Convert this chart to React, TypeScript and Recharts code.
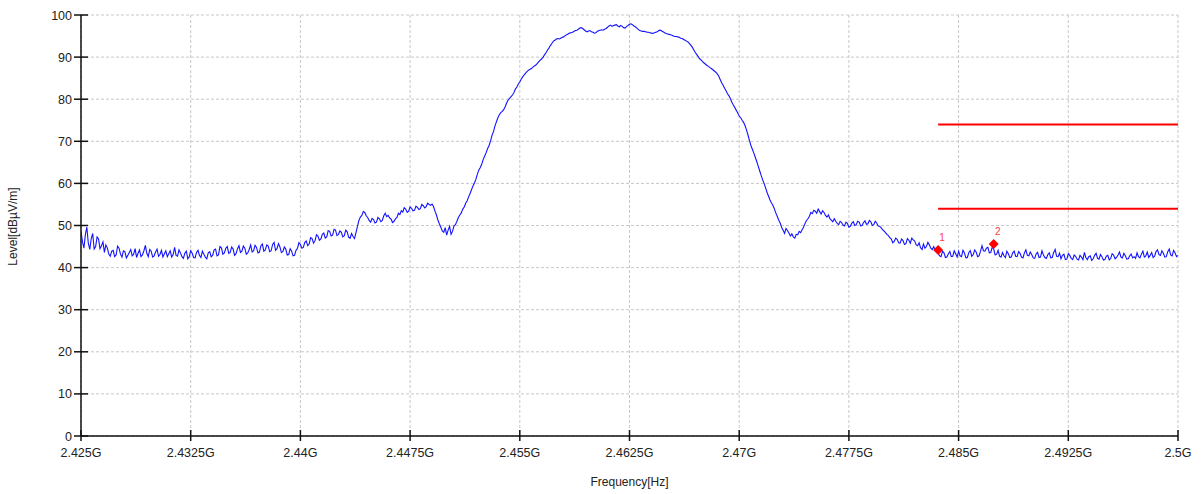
import React from 'react';
import { ComposedChart, Line, Scatter, XAxis, YAxis, CartesianGrid } from 'recharts';

// trace sampled every 0.1 MHz from 2425 MHz, one row per 2 MHz
const startMHz = 2425;
const stepMHz = 0.1;
const levels: number[] = [
  48.5, 46.2, 44.6, 47.9, 49.6, 45.8, 44.3, 46.9, 48.1, 44.4, 45.0, 47.3, 46.8, 44.5, 45.2, 46.1, 43.6, 45.4, 44.7, 43.2,
  42.7, 43.9, 44.1, 42.6, 43.0, 45.1, 44.6, 43.2, 42.5, 44.0, 43.8, 42.3, 42.9, 43.6, 44.3, 42.8, 43.2, 44.5, 42.4, 43.4,
  44.2, 42.6, 43.0, 44.0, 45.3, 43.4, 42.6, 44.3, 43.9, 42.5, 42.8, 43.7, 44.4, 42.7, 43.1, 44.1, 42.5, 43.3, 44.0, 42.6,
  43.3, 44.0, 42.5, 43.1, 44.8, 42.9, 42.7, 44.2, 43.5, 42.6, 42.2, 43.4, 43.9, 42.1, 42.6, 44.0, 43.4, 42.4, 42.3, 43.6,
  44.1, 42.9, 42.4, 43.9, 43.2, 42.5, 42.1, 43.5, 43.8, 42.6, 42.9, 44.2, 44.4, 42.8, 43.0, 45.0, 44.7, 43.2, 43.5, 44.6,
  45.0, 43.4, 43.6, 44.9, 44.4, 42.9, 43.3, 44.5, 45.2, 43.6, 43.9, 45.1, 44.6, 43.2, 43.5, 44.3, 45.4, 43.7, 44.0, 45.3,
  44.8, 43.5, 43.7, 45.2, 45.6, 43.9, 44.2, 45.4, 45.1, 43.8, 44.0, 45.5, 46.0, 44.1, 44.5, 45.7, 44.9, 43.6, 43.8, 44.9,
  44.4, 43.0, 43.1, 44.5, 43.9, 42.8, 42.9, 44.1, 44.6, 45.9, 45.5, 44.6, 44.8, 46.0, 46.3, 45.2, 45.6, 47.1, 46.9, 45.8,
  46.4, 47.8, 47.5, 46.5, 46.8, 47.9, 48.2, 47.0, 47.3, 48.8, 48.6, 47.5, 47.7, 49.1, 48.9, 47.6, 47.9, 48.7, 48.4, 47.3,
  47.6, 48.9, 48.5, 47.2, 47.0, 48.1, 47.4, 46.9, 48.3, 49.8, 51.2, 52.0, 52.4, 53.3, 53.1, 52.3, 51.9, 51.2, 50.8, 51.7,
  51.4, 50.6, 50.8, 51.9, 51.6, 50.9, 51.2, 52.3, 52.9, 52.1, 52.4, 51.8, 51.5, 50.7, 51.0, 51.6, 51.9, 52.9, 52.6, 53.5,
  53.2, 54.2, 53.9, 53.1, 53.4, 54.4, 54.1, 53.5, 53.6, 54.6, 54.3, 53.8, 54.0, 55.0, 54.7, 54.2, 54.5, 55.3, 55.0, 54.8,
  55.1, 54.5, 53.4, 52.5, 51.3, 50.4, 49.6, 48.7, 48.4, 49.5, 47.7, 48.9, 49.8, 47.9, 48.6, 49.9, 50.2, 51.0, 51.9, 52.5,
  53.0, 53.9, 54.4, 55.3, 55.9, 56.8, 57.6, 58.5, 59.4, 60.1, 61.0, 62.2, 63.2, 63.8, 64.6, 65.7, 66.5, 67.3, 68.3, 69.0,
  70.1, 71.4, 72.3, 73.6, 74.6, 75.6, 76.3, 76.8, 77.1, 77.5, 78.2, 79.1, 79.8, 80.2, 80.6, 81.0, 81.6, 82.4, 82.9, 83.6,
  84.1, 84.8, 85.3, 85.8, 86.2, 86.6, 86.9, 87.1, 87.3, 87.6, 87.9, 88.1, 88.5, 88.9, 89.3, 89.6, 90.0, 90.6, 91.1, 91.7,
  92.2, 92.8, 93.3, 93.8, 94.0, 94.3, 94.4, 94.3, 94.5, 94.7, 94.8, 95.1, 95.3, 95.5, 95.7, 95.8, 95.9, 96.1, 96.3, 96.4,
  96.6, 96.9, 97.0, 96.8, 96.5, 96.2, 96.0, 96.2, 96.3, 96.0, 95.9, 95.7, 95.8, 96.1, 96.3, 96.4, 96.5, 96.4, 96.6, 96.8,
  97.1, 97.4, 97.6, 97.3, 97.5, 97.6, 97.7, 97.4, 97.2, 97.5, 97.3, 97.0, 96.9, 97.3, 97.5, 97.8, 97.9, 97.7, 97.4, 97.2,
  96.9, 96.6, 96.3, 96.2, 96.1, 96.1, 96.0, 95.9, 95.9, 95.8, 95.7, 95.6, 95.8, 95.9, 96.0, 96.3, 96.4, 96.2, 96.0, 95.8,
  95.6, 95.5, 95.4, 95.3, 95.2, 95.0, 94.9, 94.9, 94.8, 94.7, 94.5, 94.4, 94.2, 94.0, 93.8, 93.6, 93.2, 92.8, 92.3, 91.7,
  91.1, 90.6, 90.1, 89.6, 89.3, 88.9, 88.6, 88.3, 88.0, 87.8, 87.5, 87.3, 87.0, 86.7, 86.4, 86.0, 85.5, 84.7, 83.9, 83.3,
  82.6, 82.0, 81.3, 80.8, 80.1, 79.3, 78.6, 78.0, 77.4, 76.7, 76.0, 75.6, 75.0, 74.5, 73.7, 72.7, 71.5, 70.2, 69.0, 68.1,
  67.2, 66.2, 65.2, 64.1, 63.0, 61.9, 60.9, 60.0, 59.0, 57.9, 57.0, 56.1, 55.4, 54.8, 54.0, 53.0, 52.2, 51.3, 50.6, 49.6,
  48.9, 48.1, 49.3, 48.8, 48.2, 47.5, 48.0, 47.3, 47.0, 47.9, 47.8, 48.6, 48.3, 49.0, 49.6, 50.5, 51.2, 51.6, 52.2, 53.1,
  52.8, 53.6, 53.4, 52.9, 53.9, 53.3, 52.7, 53.5, 53.1, 52.4, 52.0, 52.5, 51.6, 51.3, 50.9, 51.6, 51.0, 50.5, 50.2, 51.0,
  50.7, 50.1, 49.9, 50.8, 50.5, 49.6, 49.8, 50.6, 50.9, 50.0, 50.2, 51.0, 50.8, 49.9, 50.0, 50.7, 51.1, 50.3, 50.4, 51.2,
  50.9, 50.0, 50.2, 51.0, 50.6, 49.9, 49.8, 49.5, 49.0, 48.7, 48.3, 47.9, 47.6, 47.1, 46.8, 45.9, 46.2, 47.0, 46.7, 45.9,
  45.8, 46.8, 46.4, 45.5, 45.7, 46.9, 46.5, 45.8, 47.0, 46.6, 46.3, 45.4, 45.2, 45.9, 44.7, 44.3, 45.6, 44.6, 45.0, 46.0,
  45.4, 44.6, 44.3, 45.0, 44.1, 43.6, 43.4, 42.8, 42.6, 43.9, 43.5, 42.4, 42.5, 43.3, 43.8, 42.6, 42.7, 44.0, 43.3, 42.5,
  43.9, 42.8, 42.6, 44.1, 43.5, 42.3, 42.4, 43.6, 44.0, 42.7, 43.1, 44.2, 43.7, 42.6, 42.8, 43.9, 45.2, 44.0, 43.9, 44.6,
  44.8, 43.5, 43.6, 44.9, 44.4, 43.0, 43.2, 44.1, 42.7, 42.5, 43.6, 42.8, 42.4, 43.9, 43.3, 42.4, 42.5, 43.5, 43.9, 42.7,
  42.6, 43.8, 43.4, 42.5, 42.3, 43.5, 44.2, 42.9, 42.8, 43.7, 43.1, 42.3, 42.2, 43.2, 43.6, 42.4, 42.5, 44.0, 43.0, 42.4,
  42.2, 43.1, 43.5, 42.3, 42.4, 43.6, 44.3, 42.7, 42.6, 43.4, 42.1, 42.9, 43.2, 41.9, 42.0, 43.3, 42.9, 42.2, 41.9, 43.0,
  42.7, 42.0, 41.8, 42.9, 42.5, 41.9, 43.6, 42.4, 41.9, 42.6, 42.8, 41.7, 42.1, 42.9, 43.4, 42.2, 42.0, 43.1, 42.6, 41.8,
  41.9, 42.7, 42.9, 41.8, 42.2, 43.3, 43.0, 42.1, 42.4, 43.0, 43.7, 42.5, 42.3, 43.4, 42.8, 42.0, 42.1, 42.8, 43.2, 42.3,
  42.6, 42.2, 43.5, 42.6, 42.3, 43.2, 43.9, 42.5, 42.8, 43.7, 42.4, 42.9, 43.6, 42.4, 42.7, 43.8, 44.2, 43.1, 42.9, 44.0,
  43.4, 42.5, 42.6, 43.8, 44.4, 43.0, 42.8, 44.1, 43.5, 42.6, 42.9,
];

const freqTicks = [2425, 2432.5, 2440, 2447.5, 2455, 2462.5, 2470, 2477.5, 2485, 2492.5, 2500];
const freqLabels = ['2.425G', '2.4325G', '2.44G', '2.4475G', '2.455G', '2.4625G', '2.47G', '2.4775G', '2.485G', '2.4925G', '2.5G'];
const levelTicks = [0, 10, 20, 30, 40, 50, 60, 70, 80, 90, 100];

const markerNames = ['1', '2'];
const markerFreqs = [2483.6, 2487.4];
const markerLevels = [44.2, 45.6];

const limitFreqs = [2483.6, 2500];
const upperLimit = [74, 74];
const lowerLimit = [54, 54];

const trace = levels.map((level, i) => ({ f: +(startMHz + i * stepMHz).toFixed(1), level }));
const markers = markerNames.map((name, i) => ({ name, f: markerFreqs[i], level: markerLevels[i] }));
const upper = limitFreqs.map((f, i) => ({ f, level: upperLimit[i] }));
const lower = limitFreqs.map((f, i) => ({ f, level: lowerLimit[i] }));

const font = '"Liberation Sans", Arial, sans-serif';

const YTick = (props: any) => {
  const { x, y, payload } = props;
  return (
    <g>
      <line x1={x - 7} x2={x + 7} y1={y} y2={y} stroke="#111" strokeWidth={1.5} />
      <text x={x - 9} y={y} dy={4.5} textAnchor="end" fontSize={12.5} fill="#222" fontFamily={font}>
        {payload.value}
      </text>
    </g>
  );
};

const XTick = (props: any) => {
  const { x, y, payload } = props;
  const label = freqLabels[freqTicks.indexOf(payload.value)];
  return (
    <g>
      <line x1={x} x2={x} y1={y - 6} y2={y + 5} stroke="#111" strokeWidth={1.5} />
      <text x={x} y={y + 21} textAnchor="middle" fontSize={12.5} fill="#222" fontFamily={font}>
        {label}
      </text>
    </g>
  );
};

const YTitle = (props: any) => {
  const vb = props.viewBox || {};
  const cx = (vb.x ?? 0) + 13;
  const cy = (vb.y ?? 15) + (vb.height ?? 421) / 2 + 1;
  return (
    <text x={cx} y={cy} transform={`rotate(-90 ${cx} ${cy})`} textAnchor="middle" dy={4}
      fontSize={12} fill="#222" fontFamily={font}>
      Level[dBµV/m]
    </text>
  );
};

const XTitle = (props: any) => {
  const vb = props.viewBox || {};
  const cx = (vb.x ?? 81) + (vb.width ?? 1097) / 2;
  return (
    <text x={cx} y={(vb.y ?? 436) + 50} textAnchor="middle" fontSize={12} fill="#222" fontFamily={font}>
      Frequency[Hz]
    </text>
  );
};

const MarkerShape = (props: any) => {
  const { cx, cy, payload } = props;
  return (
    <g>
      <polygon points={`${cx},${cy - 5} ${cx + 5},${cy} ${cx},${cy + 5} ${cx - 5},${cy}`} fill="#ff0000" />
      <text x={cx + 4} y={cy - 9} textAnchor="middle" fontSize={10} fill="#ff3b3b" fontFamily={font}>
        {payload.name}
      </text>
    </g>
  );
};

export default function App() {
  return (
    <div style={{ position: 'absolute', left: 0, top: 0, width: 1201, height: 494, background: '#fff' }}>
      <ComposedChart width={1201} height={494} margin={{ top: 15, right: 23, bottom: 0, left: 0 }}>
        <CartesianGrid stroke="#c8c8c8" strokeDasharray="3 2" />
        <XAxis
          dataKey="f"
          type="number"
          domain={[2425, 2500]}
          ticks={freqTicks}
          interval={0}
          height={58}
          tickSize={0}
          tickMargin={0}
          tickLine={false}
          tick={<XTick />}
          axisLine={{ stroke: '#111', strokeWidth: 1.5 }}
          allowDataOverflow
          label={<XTitle />}
        />
        <YAxis
          type="number"
          domain={[0, 100]}
          ticks={levelTicks}
          interval={0}
          width={81}
          tickSize={0}
          tickMargin={0}
          tickLine={false}
          tick={<YTick />}
          axisLine={{ stroke: '#111', strokeWidth: 1.5 }}
          label={<YTitle />}
        />
        <Line
          data={trace}
          dataKey="level"
          stroke="#1212ff"
          strokeWidth={1.1}
          dot={false}
          activeDot={false}
          isAnimationActive={false}
        />
        <Line data={upper} dataKey="level" stroke="#ff0000" strokeWidth={2} dot={false} activeDot={false} isAnimationActive={false} />
        <Line data={lower} dataKey="level" stroke="#ff0000" strokeWidth={2} dot={false} activeDot={false} isAnimationActive={false} />
        <Scatter data={markers} dataKey="level" shape={<MarkerShape />} isAnimationActive={false} />
      </ComposedChart>
    </div>
  );
}
